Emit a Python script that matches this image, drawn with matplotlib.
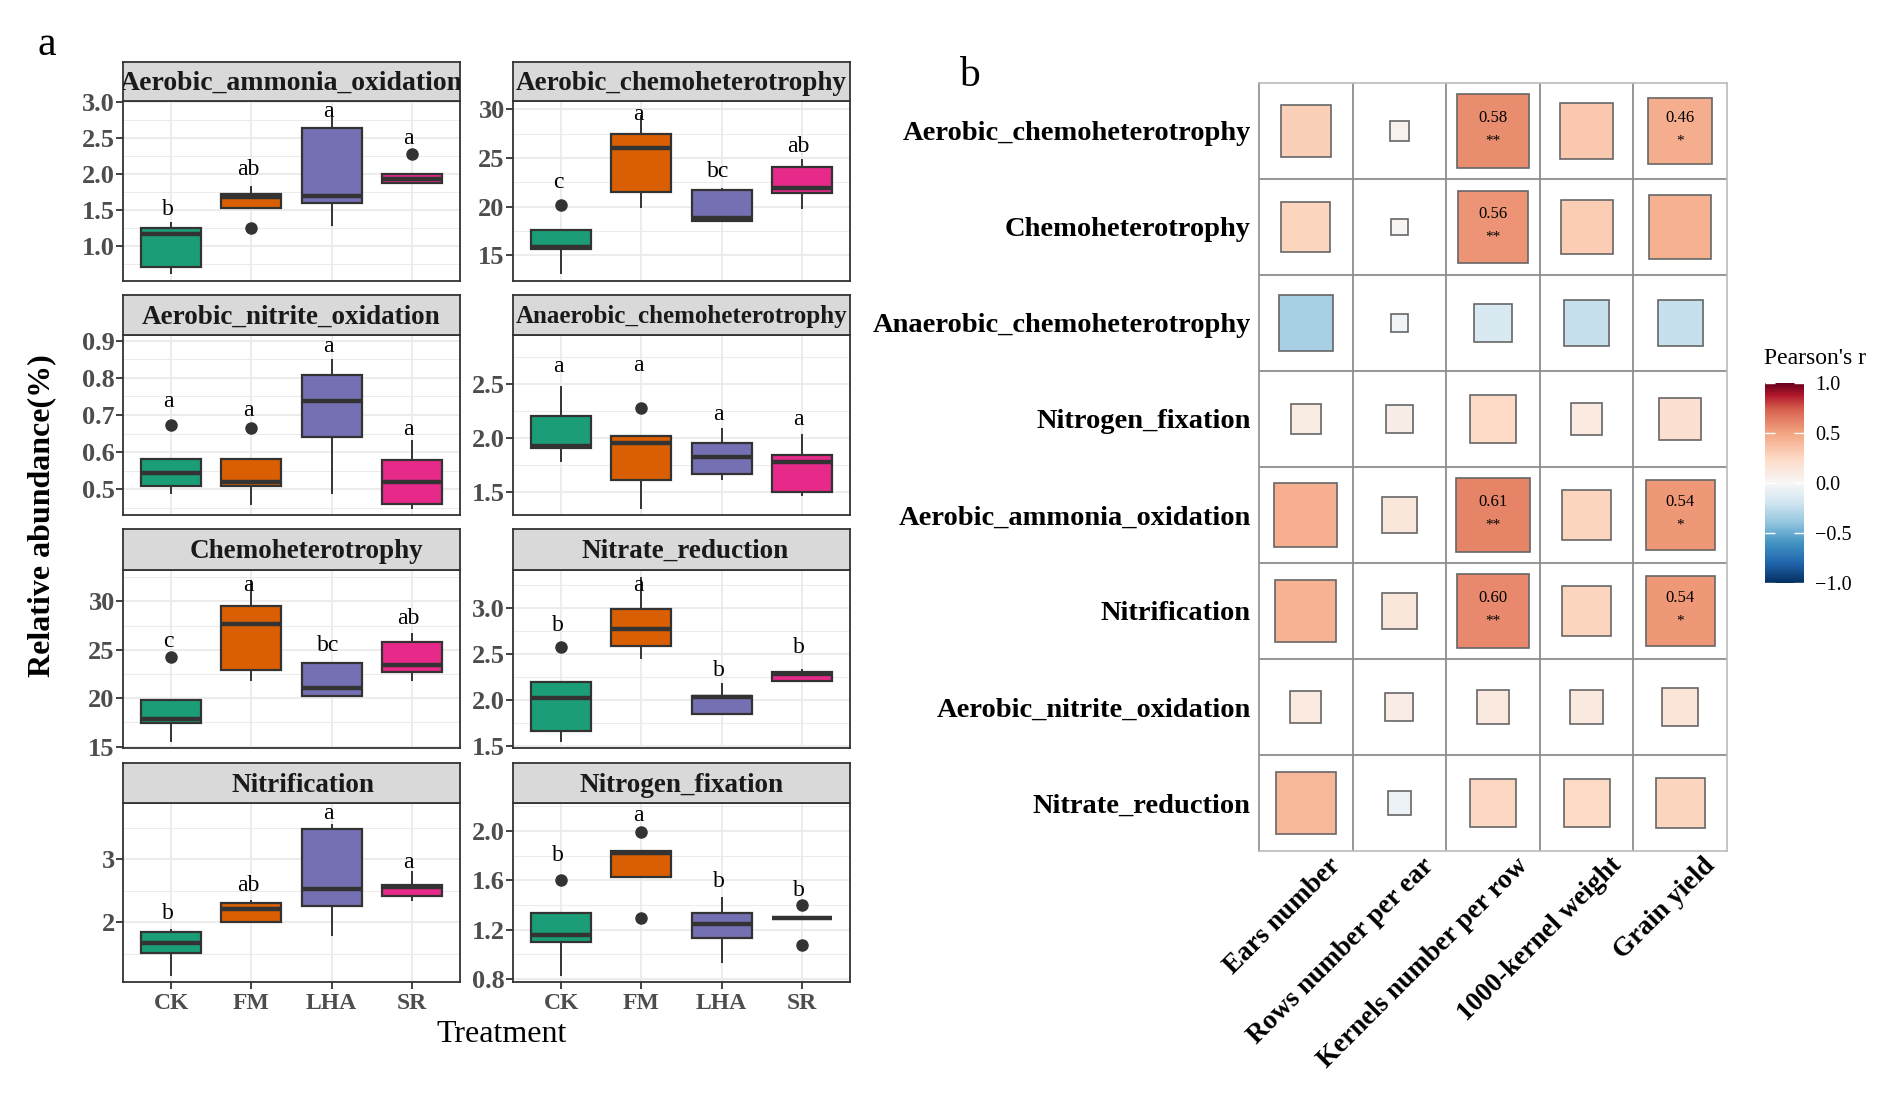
import numpy as np
import matplotlib.pyplot as plt
from matplotlib.patches import Rectangle
from matplotlib.ticker import MultipleLocator
from matplotlib.transforms import ScaledTranslation
import matplotlib as mpl

plt.rcParams['font.family'] = ['Liberation Serif', 'DejaVu Serif']

W, H = 1896, 1100

treatments = ["CK", "FM", "LHA", "SR"]
treat_colors = ["#1B9E77", "#D95F02", "#7570B3", "#E7298A"]

# box rows: [whisker low, Q1, median, Q3, whisker high] for CK, FM, LHA, SR
ammonia_box = [[0.63, 0.72, 1.17, 1.26, 1.33], [1.54, 1.54, 1.69, 1.73, 1.82],
               [1.30, 1.61, 1.70, 2.64, 2.86], [1.88, 1.88, 1.935, 2.00, 2.00]]
ammonia_out = [[], [1.25], [], [2.28]]
ammonia_sig = ["b", "ab", "a", "a"]
ammonia_sig_y = [1.51, 2.07, 2.88, 2.50]

aerochemo_box = [[13.15, 15.69, 15.9, 17.6, 17.6], [20.0, 21.51, 26.06, 27.5, 29.3],
                 [18.53, 18.53, 18.87, 21.68, 21.85], [19.86, 21.37, 21.92, 24.1, 24.8]]
aerochemo_out = [[20.14], [], [], []]
aerochemo_sig = ["c", "a", "bc", "ab"]
aerochemo_sig_y = [22.5, 29.5, 23.6, 26.2]

nitrite_box = [[0.49, 0.509, 0.544, 0.580, 0.580], [0.459, 0.509, 0.519, 0.580, 0.580],
               [0.49, 0.641, 0.739, 0.808, 0.849], [0.448, 0.461, 0.52, 0.578, 0.629]]
nitrite_out = [[0.673], [0.664], [], []]
nitrite_sig = ["a", "a", "a", "a"]
nitrite_sig_y = [0.736, 0.711, 0.885, 0.661]

anaero_box = [[1.788, 1.909, 1.927, 2.203, 2.475], [1.351, 1.608, 1.949, 2.017, 2.017],
              [1.618, 1.664, 1.819, 1.949, 2.079], [1.469, 1.494, 1.779, 1.841, 2.026]]
anaero_out = [[], [2.274], [], []]
anaero_sig = ["a", "a", "a", "a"]
anaero_sig_y = [2.667, 2.676, 2.218, 2.172]

chemo_box = [[15.62, 17.43, 17.84, 19.83, 19.83], [21.88, 22.91, 27.67, 29.49, 32.12],
             [20.24, 20.24, 21.03, 23.66, 23.66], [21.88, 22.74, 23.42, 25.82, 26.64]]
chemo_out = [[24.25], [], [], []]
chemo_sig = ["c", "a", "bc", "ab"]
chemo_sig_y = [25.9, 31.7, 25.4, 28.2]

nitrate_box = [[1.554, 1.662, 2.022, 2.194, 2.194], [2.453, 2.586, 2.77, 2.986, 3.327],
               [1.842, 1.842, 2.029, 2.04, 2.173], [2.20, 2.20, 2.28, 2.30, 2.32]]
nitrate_out = [[2.568], [], [], []]
nitrate_sig = ["b", "a", "b", "b"]
nitrate_sig_y = [2.81, 3.245, 2.317, 2.568]

nitrif_box = [[1.158, 1.511, 1.668, 1.853, 1.88], [2.01, 2.01, 2.205, 2.30, 2.34],
              [1.79, 2.263, 2.526, 3.484, 3.537], [2.353, 2.421, 2.563, 2.589, 2.80]]
nitrif_out = [[], [], [], []]
nitrif_sig = ["b", "ab", "a", "a"]
nitrif_sig_y = [2.14, 2.574, 3.72, 2.94]

nfix_box = [[0.830, 1.104, 1.153, 1.338, 1.338], [1.629, 1.629, 1.817, 1.836, 1.836],
            [0.935, 1.136, 1.247, 1.338, 1.459], [1.292, 1.292, 1.292, 1.292, 1.292]]
nfix_out = [[1.602], [1.992, 1.292], [], [1.397, 1.072]]
nfix_sig = ["b", "a", "b", "b"]
nfix_sig_y = [1.80, 2.126, 1.588, 1.52]

# correlation panel
functions = ["Aerobic_chemoheterotrophy", "Chemoheterotrophy", "Anaerobic_chemoheterotrophy",
             "Nitrogen_fixation", "Aerobic_ammonia_oxidation", "Nitrification",
             "Aerobic_nitrite_oxidation", "Nitrate_reduction"]
traits = ["Ears number", "Rows number per ear", "Kernels number per row",
          "1000-kernel weight", "Grain yield"]
pearson_r = [[0.29, 0.04, 0.58, 0.33, 0.46],
             [0.27, 0.03, 0.56, 0.31, 0.44],
             [-0.33, -0.035, -0.16, -0.23, -0.23],
             [0.10, 0.08, 0.24, 0.11, 0.20],
             [0.45, 0.14, 0.61, 0.27, 0.54],
             [0.43, 0.14, 0.60, 0.27, 0.54],
             [0.11, 0.09, 0.12, 0.12, 0.15],
             [0.41, -0.06, 0.25, 0.24, 0.27]]
signif = [["", "", "**", "", "*"],
          ["", "", "**", "", ""],
          ["", "", "", "", ""],
          ["", "", "", "", ""],
          ["", "", "**", "", "*"],
          ["", "", "**", "", "*"],
          ["", "", "", "", ""],
          ["", "", "", "", ""]]


def rect(x0, y0, x1, y1):
    return [x0 / W, 1 - y1 / H, (x1 - x0) / W, (y1 - y0) / H]


# title, box, outliers, letters, letter y, ylim, y ticks, tick format, minor step,
# strip font size, strip title x shift
panels = [
    ("Aerobic_ammonia_oxidation", ammonia_box, ammonia_out, ammonia_sig, ammonia_sig_y,
     (0.52, 3.02), [1.0, 1.5, 2.0, 2.5, 3.0], "%.1f", 0.25, 20, 0.0),
    ("Aerobic_chemoheterotrophy", aerochemo_box, aerochemo_out, aerochemo_sig, aerochemo_sig_y,
     (12.36, 30.86), [15, 20, 25, 30], "%d", 2.5, 19.5, 0.0),
    ("Aerobic_nitrite_oxidation", nitrite_box, nitrite_out, nitrite_sig, nitrite_sig_y,
     (0.43, 0.916), [0.5, 0.6, 0.7, 0.8, 0.9], "%.1f", 0.05, 19.5, 0.0),
    ("Anaerobic_chemoheterotrophy", anaero_box, anaero_out, anaero_sig, anaero_sig_y,
     (1.283, 2.955), [1.5, 2.0, 2.5], "%.1f", 0.25, 18, 0.0),
    ("Chemoheterotrophy", chemo_box, chemo_out, chemo_sig, chemo_sig_y,
     (14.86, 33.25), [15, 20, 25, 30], "%d", 2.5, 19.5, 0.045),
    ("Nitrate_reduction", nitrate_box, nitrate_out, nitrate_sig, nitrate_sig_y,
     (1.475, 3.41), [1.5, 2.0, 2.5, 3.0], "%.1f", 0.25, 19.5, 0.01),
    ("Nitrification", nitrif_box, nitrif_out, nitrif_sig, nitrif_sig_y,
     (1.053, 3.889), [2, 3], "%d", 0.5, 19.5, 0.035),
    ("Nitrogen_fixation", nfix_box, nfix_out, nfix_sig, nfix_sig_y,
     (0.776, 2.226), [0.8, 1.2, 1.6, 2.0], "%.1f", 0.2, 19.5, 0.0),
]

col_x = [(123, 460), (513, 850)]
row_y = [(62, 101, 281), (295, 335, 515), (529, 570, 748), (763, 803, 982)]

fig = plt.figure(figsize=(18.96, 11), dpi=100)

for k, (title, box, out, sig, sig_y, ylim, yticks, fmt, minor, tsize, tshift) in enumerate(panels):
    r, c = divmod(k, 2)
    x0, x1 = col_x[c]
    s0, p0, p1 = row_y[r]
    ax = fig.add_axes(rect(x0, p0, x1, p1))
    sax = fig.add_axes(rect(x0, s0, x1, p0))
    # strip
    sax.set_facecolor("#D9D9D9")
    sax.set_xticks([])
    sax.set_yticks([])
    for sp in sax.spines.values():
        sp.set_color("#333333")
        sp.set_linewidth(1.3)
    sax.text(0.5 + tshift, 0.45, title, ha="center", va="center", fontsize=tsize,
             fontweight="bold", color="#1A1A1A", transform=sax.transAxes, clip_on=True)
    # boxes
    stats = []
    for i, b in enumerate(box):
        stats.append(dict(whislo=b[0], q1=b[1], med=b[2], q3=b[3], whishi=b[4], fliers=out[i]))
    bp = ax.bxp(stats, positions=[1, 2, 3, 4], widths=0.75, patch_artist=True, showcaps=False,
                boxprops=dict(edgecolor="#333333", linewidth=1.6),
                medianprops=dict(color="#333333", linewidth=3.2, solid_capstyle="butt"),
                whiskerprops=dict(color="#333333", linewidth=1.4),
                flierprops=dict(marker="o", markerfacecolor="#333333", markeredgecolor="#333333",
                                markersize=8))
    for patch, col in zip(bp["boxes"], treat_colors):
        patch.set_facecolor(col)
    for i in range(4):
        ax.text(i + 0.96, sig_y[i], sig[i], ha="center", va="center", fontsize=17, color="black")
    ax.set_xlim(0.4, 4.6)
    ax.set_ylim(*ylim)
    ax.set_yticks(yticks, [fmt % t for t in yticks], fontweight="bold")
    ax.yaxis.set_minor_locator(MultipleLocator(minor))
    ax.tick_params(axis="y", which="minor", length=0)
    ax.tick_params(axis="y", which="major", length=5, width=1.3, color="#333333",
                   labelsize=19, labelcolor="#4D4D4D", pad=1)
    ax.set_xticks([1, 2, 3, 4])
    if r == 3:
        ax.set_xticklabels(treatments, fontweight="bold")
        ax.tick_params(axis="x", length=5, width=1.3, color="#333333", labelsize=17,
                       labelcolor="#4D4D4D", pad=3)
    else:
        ax.tick_params(axis="x", length=0, labelbottom=False)
    ax.grid(True, which="major", color="#EBEBEB", linewidth=1.3)
    ax.grid(True, which="minor", axis="y", color="#EBEBEB", linewidth=0.7)
    ax.set_axisbelow(True)
    for sp in ax.spines.values():
        sp.set_color("#333333")
        sp.set_linewidth(1.3)

fig.text(502 / W, 1 - 1035 / H, "Treatment", ha="center", va="center", fontsize=23)
fig.text(42 / W, 1 - 516 / H, "Relative abundance(%)", ha="center", va="center",
         rotation=90, fontsize=23, fontweight="bold")
fig.text(47 / W, 1 - 45 / H, "a", ha="center", va="center", fontsize=30)
fig.text(969 / W, 1 - 76 / H, "b", ha="center", va="center", fontsize=30)

# correlation heatmap, red side a little lighter than plain RdBu
cmap = mpl.colors.LinearSegmentedColormap.from_list("corr", [
    (0.0, "#053061"), (0.1, "#2166AC"), (0.2, "#4393C3"), (0.3, "#92C5DE"),
    (0.4, "#D1E5F0"), (0.5, "#F7F7F7"), (0.62, "#FDDBC7"), (0.75, "#F4A582"),
    (0.87, "#D6604D"), (0.94, "#B2182B"), (1.0, "#67001F")])
norm = mpl.colors.Normalize(vmin=-1, vmax=1)
hax = fig.add_axes(rect(1259, 83, 1727, 851))
nr, nc = len(functions), len(traits)
for i in range(nr):
    for j in range(nc):
        v = pearson_r[i][j]
        s = np.sqrt(abs(v))
        hax.add_patch(Rectangle((j - s / 2, i - s / 2), s, s, facecolor=cmap(norm(v)),
                                edgecolor="#666666", linewidth=1.2, zorder=3))
        if signif[i][j]:
            hax.text(j, i - 0.14, "%.2f" % v, ha="center", va="center", fontsize=12, zorder=4)
            hax.text(j, i + 0.1, signif[i][j], ha="center", va="center", fontsize=11, zorder=4)
for k in range(1, nc):
    hax.axvline(k - 0.5, color="#8C8C8C", linewidth=1.3, zorder=1)
for k in range(1, nr):
    hax.axhline(k - 0.5, color="#8C8C8C", linewidth=1.3, zorder=1)
hax.set_xlim(-0.5, nc - 0.5)
hax.set_ylim(nr - 0.5, -0.5)
hax.set_xticks([])
# rotated trait names, anchored a little right of each column centre
lab_tr = hax.transData + ScaledTranslation(0.22, -0.02, fig.dpi_scale_trans)
for j, name in enumerate(traits):
    hax.text(j, nr - 0.5, name, rotation=45, ha="right", va="top", rotation_mode="anchor",
             fontweight="bold", fontsize=19.5, transform=lab_tr, clip_on=False)
hax.set_yticks(range(nr))
hax.set_yticklabels(functions, fontweight="bold", fontsize=20.5)
hax.tick_params(axis="both", length=0)
hax.tick_params(axis="y", pad=6)
for sp in hax.spines.values():
    sp.set_color("#BBBBBB")
    sp.set_linewidth(1.2)
hax.spines["left"].set_color("#8C8C8C")

cax = fig.add_axes(rect(1765, 383, 1804, 583))
sm = mpl.cm.ScalarMappable(norm=norm, cmap=cmap)
cb = fig.colorbar(sm, cax=cax)
cb.outline.set_visible(False)
cb.set_ticks([-1.0, -0.5, 0.0, 0.5, 1.0])
cb.set_ticklabels(["\u22121.0", "\u22120.5", "0.0", "0.5", "1.0"])
cax.tick_params(axis="y", direction="in", length=7, width=1, color="white", left=True,
                right=True, labelsize=14.5, pad=8)
fig.text(1764 / W, 1 - 358 / H, "Pearson's r", ha="left", va="center", fontsize=17)

fig.savefig("out.png", dpi=100)
